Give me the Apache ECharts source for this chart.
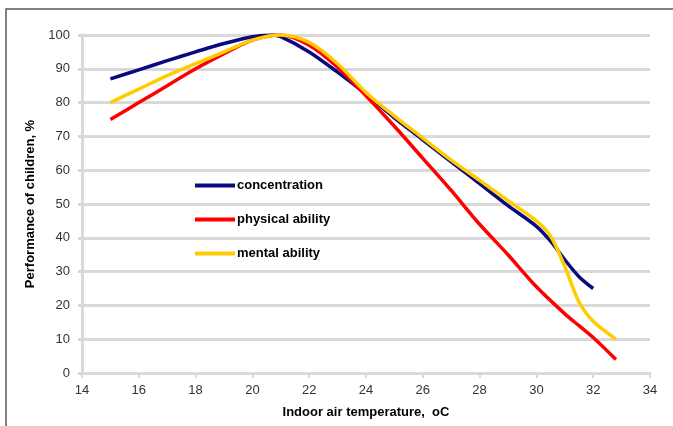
<!DOCTYPE html>
<html>
<head>
<meta charset="utf-8">
<script src="https://cdn.jsdelivr.net/npm/echarts@6/dist/echarts.min.js"></script>
<style>
html,body{margin:0;padding:0;background:#fff;}
#chart{width:673px;height:426px;}
</style>
</head>
<body>
<div id="chart"></div>
<script>
// Data
var seriesNames = ['concentration', 'physical ability', 'mental ability'];
var concentrationX = [15, 16, 17, 18, 19, 20, 20.7, 21, 22, 23, 24, 25, 26, 27, 28, 29, 30, 30.5, 31, 31.5, 32];
var concentrationY = [87, 89.7, 92.4, 95, 97.5, 99.5, 100, 99.5, 95, 89, 82.5, 75.5, 69, 62.5, 56, 49.5, 43.4, 39, 33.5, 28.5, 25];
var physicalX = [15, 16, 17, 18, 19, 20, 21, 22, 23, 24, 25, 26, 27, 28, 29, 30, 31, 31.5, 32, 32.8];
var physicalY = [75, 80, 85, 90, 94.5, 98.5, 100, 97, 90.5, 82, 73, 63.5, 54, 44, 35, 25.5, 17.5, 14, 10.5, 4];
var mentalX = [15, 16, 17, 18, 19, 20, 21, 22, 23, 24, 25, 26, 27, 28, 29, 30, 30.5, 31, 31.5, 32, 32.8];
var mentalY = [80, 84, 88, 91.5, 95, 98.5, 100, 97.8, 91.5, 83, 76, 69.5, 63, 57, 51, 45, 40.5, 31.5, 21, 15.3, 10];
var xTicks = {min: 14, max: 34, step: 2};
var yTicks = {min: 0, max: 100, step: 10};
var xAxisTitle = 'Indoor air temperature,  oC';
var yAxisTitle = 'Performance of children, %';

function pairs(xs, ys) {
  return xs.map(function (x, i) { return [x, ys[i]]; });
}

var colors = ['#0a0a80', '#ff0000', '#ffcc00'];
var chart = echarts.init(document.getElementById('chart'), null, {renderer: 'canvas'});
var font = '"Liberation Sans", Arial, sans-serif';

chart.setOption({
  animation: false,
  backgroundColor: '#ffffff',
  color: colors,
  graphic: [{
    type: 'rect',
    shape: {x: 6, y: 9, width: 720, height: 460},
    style: {fill: 'none', stroke: '#5a5a5a', lineWidth: 1.5},
    silent: true,
    z: -1
  }],
  grid: {left: 82, right: 23, top: 35, bottom: 53},
  legend: {
    orient: 'vertical',
    left: 195,
    top: 179,
    padding: 0,
    itemGap: 21,
    itemWidth: 40,
    itemHeight: 4,
    icon: 'rect',
    data: seriesNames,
    textStyle: {fontFamily: font, fontSize: 13, fontWeight: 'bold', color: '#000', padding: [0, 0, 0, -3]}
  },
  xAxis: {
    type: 'value',
    min: xTicks.min, max: xTicks.max, interval: xTicks.step,
    name: xAxisTitle,
    nameLocation: 'middle',
    nameGap: 33,
    nameTextStyle: {fontFamily: font, fontSize: 13, fontWeight: 'bold', color: '#000'},
    axisLine: {show: true, lineStyle: {color: '#d9d9d9', width: 3}},
    axisTick: {show: true, length: 5, lineStyle: {color: '#d9d9d9', width: 2}},
    axisLabel: {fontFamily: font, fontSize: 13, color: '#333', margin: 11},
    splitLine: {show: false}
  },
  yAxis: {
    type: 'value',
    min: yTicks.min, max: yTicks.max, interval: yTicks.step,
    name: yAxisTitle,
    nameLocation: 'middle',
    nameGap: 45,
    nameTextStyle: {fontFamily: font, fontSize: 13, fontWeight: 'bold', color: '#000'},
    axisLine: {show: true, lineStyle: {color: '#d9d9d9', width: 3}},
    axisTick: {show: true, length: 4, lineStyle: {color: '#d9d9d9', width: 3}},
    axisLabel: {fontFamily: font, fontSize: 13, color: '#333', margin: 12},
    splitLine: {show: true, lineStyle: {color: '#d9d9d9', width: 3}}
  },
  series: [
    {name: seriesNames[0], type: 'line', data: pairs(concentrationX, concentrationY), smooth: 0.3, showSymbol: false, lineStyle: {width: 3.5, color: colors[0]}},
    {name: seriesNames[1], type: 'line', data: pairs(physicalX, physicalY), smooth: 0.3, showSymbol: false, lineStyle: {width: 3.5, color: colors[1]}},
    {name: seriesNames[2], type: 'line', data: pairs(mentalX, mentalY), smooth: 0.3, showSymbol: false, lineStyle: {width: 3.5, color: colors[2]}}
  ]
});
</script>
</body>
</html>
